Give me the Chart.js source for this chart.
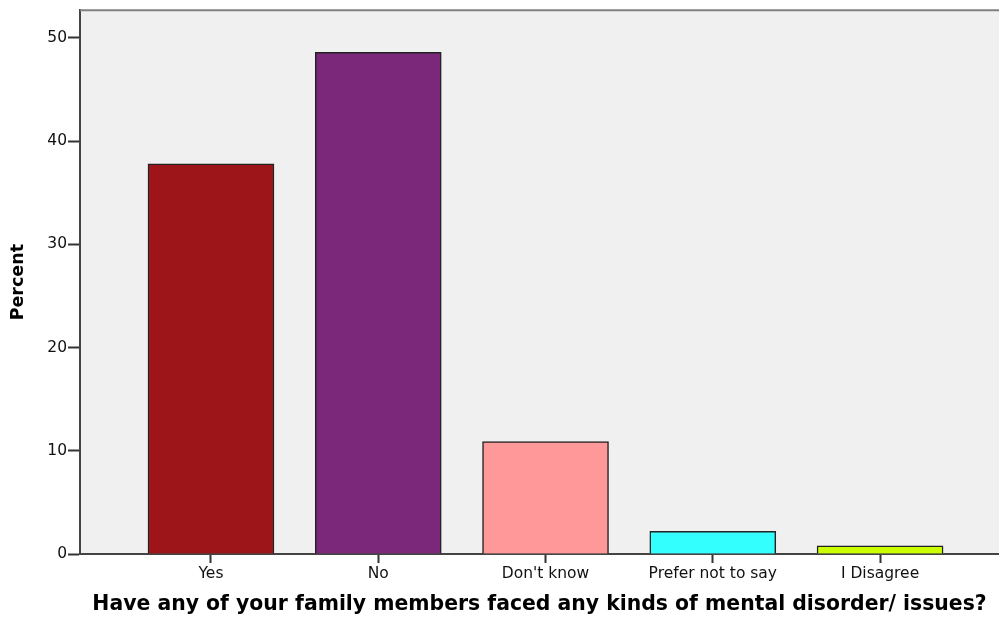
<!DOCTYPE html>
<html>
<head>
<meta charset="utf-8">
<script src="https://cdn.jsdelivr.net/npm/chart.js@4"></script>
<style>
html,body{margin:0;padding:0;background:#fff;}
#wrap{width:999px;height:617px;}
</style>
</head>
<body>
<div id="wrap"><canvas id="c" width="999" height="617"></canvas></div>
<script>
const categories = ["Yes", "No", "Don't know", "Prefer not to say", "I Disagree"];
const percentValues = [37.8, 48.6, 10.9, 2.2, 0.8];
const barColors = ["#9e1519", "#7b287a", "#ff9999", "#33ffff", "#ccff00"];
const yTicks = [0, 10, 20, 30, 40, 50];
const xTitle = "Have any of your family members faced any kinds of mental disorder/ issues?";
const yTitle = "Percent";

const plotBg = {
  id: 'plotBg',
  beforeDraw(chart) {
    const {ctx, chartArea: a} = chart;
    ctx.save();
    ctx.fillStyle = '#f0f0f0';
    ctx.fillRect(a.left, a.top, a.right - a.left, a.bottom - a.top);
    ctx.restore();
  },
  afterDatasetsDraw(chart) {
    const {ctx, chartArea: a} = chart;
    ctx.save();
    ctx.strokeStyle = '#808080';
    ctx.lineWidth = 2;
    ctx.beginPath();
    ctx.moveTo(a.left, a.top);
    ctx.lineTo(a.right, a.top);
    ctx.stroke();
    ctx.restore();
  }
};

new Chart(document.getElementById('c'), {
  type: 'bar',
  data: {
    datasets: [{
      data: percentValues.map((v, i) => ({x: i, y: v})),
      backgroundColor: barColors,
      borderColor: '#222222',
      borderWidth: 1.5,
      barThickness: 126
    }]
  },
  plugins: [plotBg],
  options: {
    responsive: false,
    animation: false,
    layout: {padding: {top: 8, right: 0, left: 0, bottom: 0}},
    plugins: {legend: {display: false}, tooltip: {enabled: false}},
    scales: {
      x: {
        type: 'linear',
        offset: false,
        min: -0.783,
        max: 4.711,
        afterBuildTicks(scale) { scale.ticks = categories.map((c, i) => ({value: i})); },
        afterFit(scale) { scale.height = 63; },
        ticks: {
          callback: (v) => categories[v] ?? '',
          color: '#111',
          font: {family: 'DejaVu Sans', size: 15.5},
          padding: 2,
          maxRotation: 0,
          autoSkip: false
        },
        grid: {display: true, offset: false, drawOnChartArea: false, drawTicks: true, tickLength: 9, color: '#333', tickWidth: 2},
        border: {display: true, color: '#444', width: 2},
        title: {
          display: true,
          text: xTitle,
          color: '#000',
          font: {family: 'DejaVu Sans', size: 20.4, weight: 'bold'},
          padding: {top: 0, bottom: 0}
        }
      },
      y: {
        min: 0,
        max: 52.66,
        afterBuildTicks(scale) { scale.ticks = yTicks.map(v => ({value: v})); },
        afterFit(scale) { scale.width = 80; },
        ticks: {
          color: '#111',
          font: {family: 'DejaVu Sans', size: 15.5},
          padding: 1
        },
        grid: {display: true, drawOnChartArea: false, drawTicks: true, tickLength: 12, color: '#333', tickWidth: 2},
        border: {display: true, color: '#444', width: 2},
        title: {
          display: true,
          text: yTitle,
          color: '#000',
          font: {family: 'DejaVu Sans', size: 17.5, weight: 'bold'},
          padding: {top: 8, bottom: 0}
        }
      }
    }
  }
});
</script>
</body>
</html>
